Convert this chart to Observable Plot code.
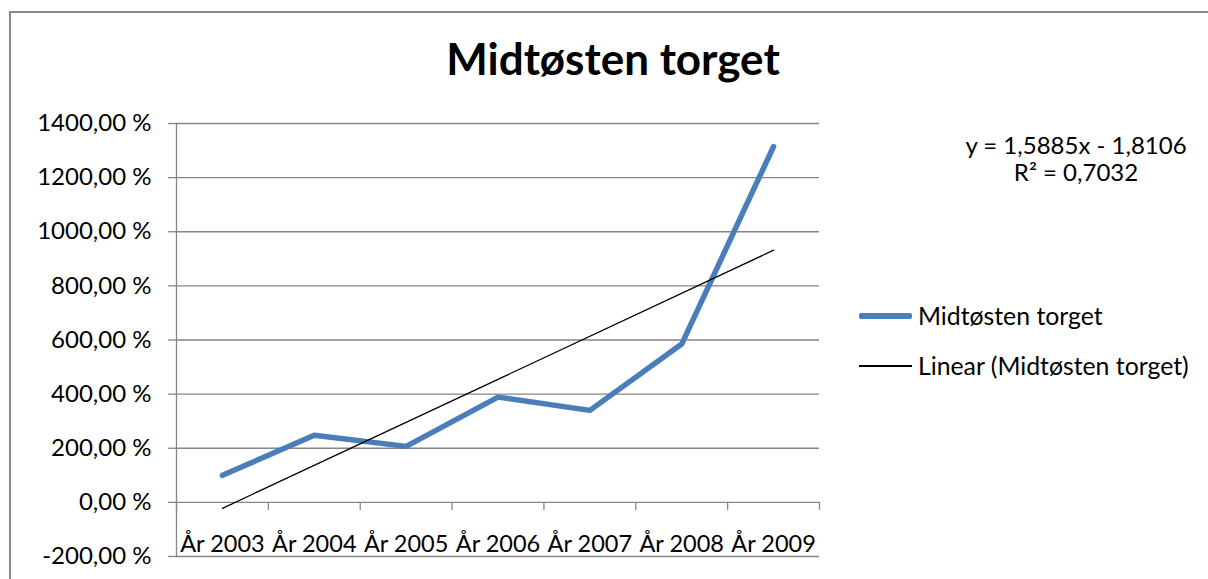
<!DOCTYPE html>
<html>
<head>
<meta charset="utf-8">
<script src="https://cdn.jsdelivr.net/npm/d3@7"></script>
<script src="https://cdn.jsdelivr.net/npm/@observablehq/plot@0.6"></script>
<style>
  html, body { margin: 0; padding: 0; background: #fff; }
  body { width: 1208px; height: 579px; position: relative; overflow: hidden; font-family: Lato, "Open Sans", sans-serif; color: #000; }
  #frame { position: absolute; left: 9px; top: 11px; width: 1300px; height: 700px; border-left: 2px solid #8a8a8a; border-top: 2px solid #8a8a8a; box-sizing: border-box; }
  #title { position: absolute; left: 0; width: 1226px; top: 32px; text-align: center; font-weight: bold; font-size: 44px; line-height: 52px; }
  #chart { position: absolute; left: 0; top: 0; }
  .eq { position: absolute; left: 955px; width: 242px; text-align: center; font-size: 24px; line-height: 28px; }
  .leg { position: absolute; left: 859px; font-size: 24.8px; line-height: 28px; display: flex; align-items: center; white-space: nowrap; }
  .leg .sw { display: inline-block; width: 53px; margin-right: 6px; }
</style>
</head>
<body>
<div id="frame"></div>
<div id="chart"></div>
<div id="title"></div>
<div class="eq" id="eq1" style="top:131px"></div>
<div class="eq" id="eq2" style="top:158px"></div>
<div class="leg" style="top:302px"><span class="sw" style="height:5.5px;background:#4a7ebb;border-radius:2px"></span><span id="leg1"></span></div>
<div class="leg" style="top:352px"><span class="sw" style="height:1.5px;background:#000"></span><span id="leg2"></span></div>
<script>
const title = "Midtøsten torget";
const categories = ["År 2003", "År 2004", "År 2005", "År 2006", "År 2007", "År 2008", "År 2009"];
const values = [100, 248, 207, 389, 340, 585, 1315]; // percent
const yTicks = [-200, 0, 200, 400, 600, 800, 1000, 1200, 1400];
const seriesName = "Midtøsten torget";
const trendName = "Linear (Midtøsten torget)";
const equationText = "y = 1,5885x - 1,8106";
const r2Text = "R² = 0,7032";

document.getElementById("title").textContent = title;
document.getElementById("eq1").textContent = equationText;
document.getElementById("eq2").textContent = r2Text;
document.getElementById("leg1").textContent = seriesName;
document.getElementById("leg2").textContent = trendName;

const data = categories.map((c, i) => ({cat: c, idx: i + 1, value: values[i]}));
const bounds = d3.range(categories.length + 1).map(i => i + 0.5);
const fmt = v => v.toFixed(2).replace(".", ",") + " %";
const grid = "#868686";

const plot = Plot.plot({
  width: 1208,
  height: 579,
  marginLeft: 176,
  marginRight: 389,
  marginTop: 123,
  marginBottom: 23,
  style: {fontFamily: "Lato, 'Open Sans', sans-serif", fontSize: "24px", background: "transparent", color: "#000"},
  x: {type: "linear", domain: [0.5, categories.length + 0.5], axis: null},
  y: {domain: [-200, 1400], ticks: yTicks, tickFormat: fmt, tickSize: 8, tickPadding: 17},
  marks: [
    Plot.ruleY(yTicks, {stroke: grid, strokeWidth: 1.3}),
    Plot.axisY({ticks: yTicks, tickFormat: fmt, tickSize: 8, tickPadding: 17, stroke: grid, strokeOpacity: 1, strokeWidth: 1.3, fill: "#000", fontSize: 24, label: null}),
    Plot.ruleX([0.5], {y1: -200, y2: 1400, stroke: grid, strokeWidth: 1.3}),
    Plot.ruleX(bounds, {y1: 0, y2: 0, insetBottom: -8, stroke: grid, strokeWidth: 1.3}),
    Plot.text(data, {x: "idx", y: -200, text: "cat", dy: -12, fontSize: 23.5, fill: "#000"}),
    Plot.line(data, {x: "idx", y: "value", stroke: "#4a7ebb", strokeWidth: 5.5, strokeLinejoin: "round", strokeLinecap: "round"}),
    Plot.linearRegressionY(data, {x: "idx", y: "value", stroke: "#000", strokeWidth: 1.3, ci: 0})
  ]
});
document.getElementById("chart").appendChild(plot);
</script>
</body>
</html>
